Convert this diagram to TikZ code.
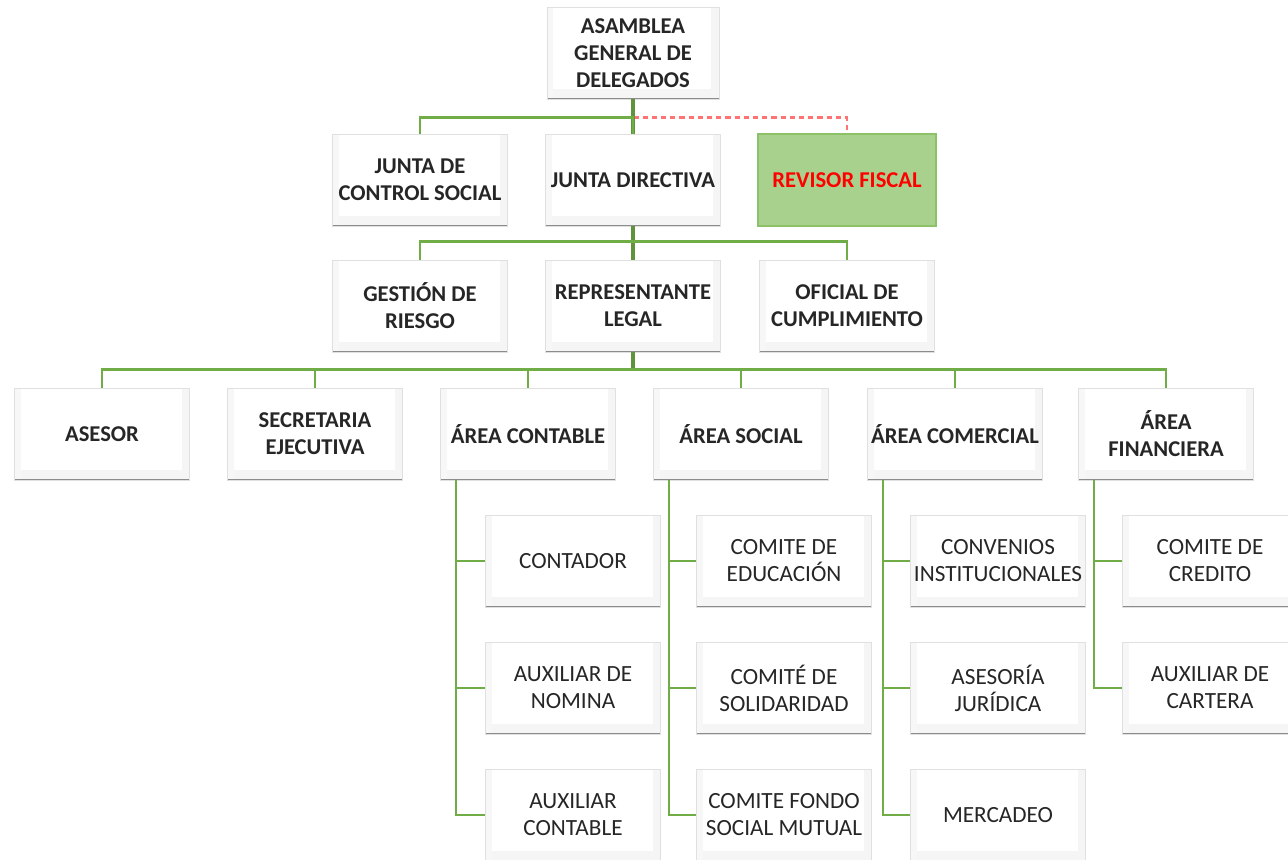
\documentclass[tikz,border=0pt]{standalone}
\usepackage{fontspec}
\setmainfont{Carlito}
\definecolor{linkgreen}{RGB}{112,173,71}
\definecolor{rfgreen}{RGB}{169,209,142}
\definecolor{rfborder}{RGB}{140,193,104}
\definecolor{boxtext}{RGB}{38,38,38}
\tikzset{
  box/.style={draw=black!12, fill=white, minimum width=87.5pt, minimum height=46pt,
    inner sep=0.5pt, align=center, text=boxtext, font=\fontsize{11.6}{13.5}\selectfont,
    path picture={
      \fill[black!4] ([yshift=5pt]path picture bounding box.south west) rectangle (path picture bounding box.south east);
      \fill[black!4] ([xshift=-4pt]path picture bounding box.north east) rectangle (path picture bounding box.south east);
      \fill[black!3] ([xshift=3pt]path picture bounding box.south west) rectangle (path picture bounding box.north west);
      \draw[black!45, line width=1.5pt] (path picture bounding box.south west) -- (path picture bounding box.south east);
    }},
  head/.style={box, font=\bfseries\fontsize{11.3}{13.5}\selectfont},
  fiscalbox/.style={draw=rfborder, fill=rfgreen, line width=0.8pt, minimum width=89pt, minimum height=46pt,
    align=center, text=red, font=\bfseries\fontsize{11.3}{13.5}\selectfont},
  link/.style={draw=linkgreen, line width=1.2pt},
  trunk/.style={draw=linkgreen!85!black, line width=2pt},
  fiscal/.style={draw=red!55, line width=1.4pt, dash pattern=on 2.6pt off 2pt}
}
\begin{document}
\begin{tikzpicture}[x=0.5pt,y=-0.5pt]
\useasboundingbox (0,0) rectangle (1288,859);
% top levels
\node[head, minimum width=86pt] (asamblea) at (633,53) {ASAMBLEA\\GENERAL DE\\DELEGADOS};
\node[head] (jcs) at (420,180) {JUNTA DE\\CONTROL SOCIAL};
\node[head] (jd) at (633,180) {JUNTA DIRECTIVA};
\node[fiscalbox] (rf) at (847,180) {REVISOR FISCAL};
\node[head] (gr) at (420,306) {GESTIÓN DE\\RIESGO};
\node[head] (rl) at (633,306) {REPRESENTANTE\\LEGAL};
\node[head] (oc) at (847,306) {OFICIAL DE\\CUMPLIMIENTO};
% areas
\node[head] (asesor) at (102,434) {ASESOR};
\node[head] (secre) at (315,434) {SECRETARIA\\EJECUTIVA};
\node[head] (contable) at (528,434) {ÁREA CONTABLE};
\node[head] (social) at (741,434) {ÁREA SOCIAL};
\node[head] (comercial) at (955,434) {ÁREA COMERCIAL};
\node[head] (financiera) at (1166,434) {ÁREA\\FINANCIERA};
% sub areas
\node[box] (contador) at (573,561) {CONTADOR};
\node[box] (nomina) at (573,688) {AUXILIAR DE\\NOMINA};
\node[box] (auxcont) at (573,815) {AUXILIAR\\CONTABLE};
\node[box] (educacion) at (784,561) {COMITE DE\\EDUCACIÓN};
\node[box] (solidaridad) at (784,688) {COMITÉ DE\\SOLIDARIDAD};
\node[box] (fondo) at (784,815) {COMITE FONDO\\SOCIAL MUTUAL};
\node[box] (convenios) at (998,561) {CONVENIOS\\INSTITUCIONALES};
\node[box] (juridica) at (998,688) {ASESORÍA\\JURÍDICA};
\node[box] (mercadeo) at (998,815) {MERCADEO};
\node[box] (credito) at (1210,561) {COMITE DE\\CREDITO};
\node[box] (cartera) at (1210,688) {AUXILIAR DE\\CARTERA};
% connectors
\draw[fiscal] (asamblea.south) -- ++(0,18) -| (rf.north);
\draw[trunk] (asamblea.south) -- (jd.north);
\draw[link] (jd.north) -- ++(0,-16) -| (jcs.north);
\draw[trunk] (jd.south) -- (rl.north);
\draw[link] (gr.north) -- ++(0,-18) -| (oc.north);
\draw[trunk] (rl.south) -- ++(0,18);
\draw[link] (asesor.north) -- ++(0,-18) -| (financiera.north);
\draw[link] (secre.north) -- ++(0,-18);
\draw[link] (contable.north) -- ++(0,-18);
\draw[link] (social.north) -- ++(0,-18);
\draw[link] (comercial.north) -- ++(0,-18);
\draw[link] ([xshift=8pt]contable.south west) |- (contador.west);
\draw[link] ([xshift=8pt]contable.south west) |- (nomina.west);
\draw[link] ([xshift=8pt]contable.south west) |- (auxcont.west);
\draw[link] ([xshift=8pt]social.south west) |- (educacion.west);
\draw[link] ([xshift=8pt]social.south west) |- (solidaridad.west);
\draw[link] ([xshift=8pt]social.south west) |- (fondo.west);
\draw[link] ([xshift=8pt]comercial.south west) |- (convenios.west);
\draw[link] ([xshift=8pt]comercial.south west) |- (juridica.west);
\draw[link] ([xshift=8pt]comercial.south west) |- (mercadeo.west);
\draw[link] ([xshift=8pt]financiera.south west) |- (credito.west);
\draw[link] ([xshift=8pt]financiera.south west) |- (cartera.west);
\end{tikzpicture}
\end{document}
